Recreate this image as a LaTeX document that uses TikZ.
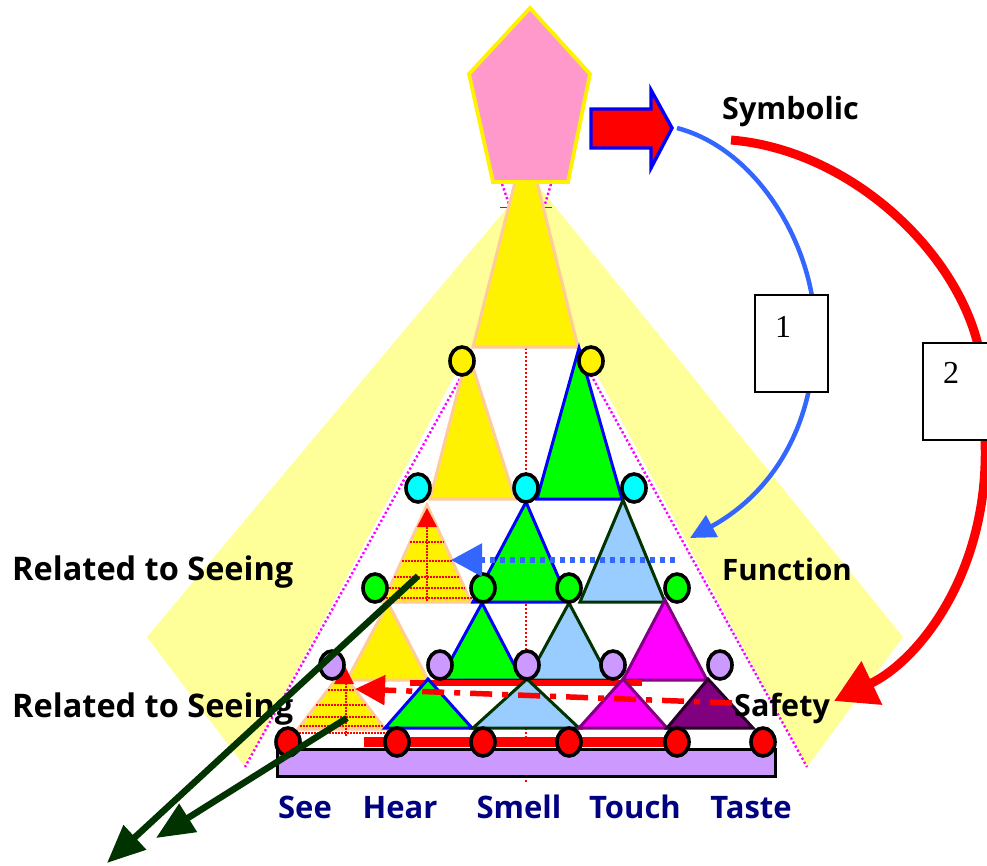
\documentclass[tikz,border=0pt]{standalone}
\usepackage{fontspec}
\setmainfont{Open Sans}
\newfontfamily\numfont{Liberation Serif}
\usetikzlibrary{arrows.meta,shapes.geometric}
\definecolor{paleyellow}{HTML}{FFFF99}
\definecolor{pinkpent}{HTML}{FF99CC}
\definecolor{peach}{HTML}{FFCC99}
\definecolor{lightblue}{HTML}{99CCFF}
\definecolor{dkgreen}{HTML}{003300}
\definecolor{lavender}{HTML}{CC99FF}
\definecolor{navyblue}{HTML}{000080}
\definecolor{arcblue}{HTML}{3366FF}
\definecolor{dkpurple}{HTML}{800080}
\definecolor{brightgreen}{HTML}{00FF00}
\definecolor{brightmag}{HTML}{FF00FF}
\definecolor{cyanfill}{HTML}{00FFFF}
\begin{document}
\begin{tikzpicture}[x=1pt,y=-1pt,
  tri/.style={line width=3pt, line join=miter},
  ytri/.style={tri, fill=yellow, draw=peach},
  gtri/.style={tri, fill=brightgreen, draw=blue},
  btri/.style={tri, fill=lightblue, draw=dkgreen},
  mtri/.style={tri, fill=brightmag, draw=dkpurple},
  ptri/.style={tri, fill=dkpurple, draw=black!70!dkpurple},
  knob/.style={shape=ellipse, draw=black, line width=3.6pt, minimum width=24pt, minimum height=28pt, inner sep=0pt},
  gridline/.style={red, line width=1.1pt, dash pattern=on 1.5pt off 1.5pt},
  magdot/.style={brightmag, line width=2.4pt, dash pattern=on 2.2pt off 2.4pt},
  reddot/.style={red, line width=1.4pt, dash pattern=on 2pt off 2pt},
  numbox/.style={draw=black, fill=white, line width=2pt, minimum width=73pt, minimum height=97pt, inner sep=0pt},
  lbl/.style={font=\bfseries\fontsize{30.5}{36}\selectfont, inner sep=0pt, anchor=base west},
  sense/.style={font=\bfseries\fontsize{31}{36}\selectfont, text=navyblue, inner sep=0pt, anchor=base},
  numtxt/.style={font=\numfont\fontsize{32}{36}\selectfont, inner sep=0pt},
  bigarrow/.style={dkgreen, line width=6.5pt, -{Triangle[length=38pt,width=32pt]}}
]
\useasboundingbox (0,0) rectangle (987,865);
\clip (0,0) rectangle (987,865);

% pale yellow background shape
\fill[paleyellow] (532,178) -- (903,637) -- (807,767) -- (245,767) -- (147,637) -- cycle;
% white pyramid field
\fill[white] (470,347) -- (582,347) -- (807,767) -- (245,767) -- cycle;

% guide lines
\draw[magdot] (462,375) -- (245,767);
\draw[magdot] (591,375) -- (807,767);
\draw[magdot] (502,184) -- (509,204);
\draw[magdot] (551,184) -- (545,204);
\draw[reddot] (526,200) -- (526,782);
\draw[red, line width=1pt] (500,207) -- (518,207) (536,207) -- (552,207);

% top trapezoid
\draw[ytri] (515,182) -- (537,182) -- (578,347) -- (473,347) -- cycle;

% pentagon
\draw[fill=pinkpent, draw=yellow, line width=3.8pt, line join=miter]
  (530,8) -- (590,74) -- (568,182) -- (493,182) -- (469,74) -- cycle;

% red block arrow
\draw[fill=red, draw=blue, line width=3.4pt, line join=miter]
  (591,109) -- (651,109) -- (651,90) -- (672,128) -- (651,168) -- (651,148) -- (591,148) -- cycle;

% row 4
\draw[ytri] (468,352) -- (515,499) -- (430,499) -- cycle;
\draw[gtri] (579,348) -- (622,499) -- (537,499) -- cycle;

% row 3
\draw[ytri] (427,505) -- (471,602) -- (383,602) -- cycle;
\draw[gridline] (410,542) -- (444,542) (402,561) -- (452,561) (394,577) -- (460,577)
  (389,588) -- (465,588) (371,598) -- (483,598) (427,527) -- (427,602);
\fill[red] (427,508) -- (437,527) -- (417,527) -- cycle;
\draw[gtri] (526,502) -- (569,602) -- (473,602) -- cycle;
\draw[btri] (623,500) -- (665,602) -- (580,602) -- cycle;

% row 2
\draw[ytri] (388,603) -- (428,680) -- (347,680) -- cycle;
\draw[gtri] (482,603) -- (522,680) -- (440,680) -- cycle;
\draw[btri] (569,603) -- (610,680) -- (527,680) -- cycle;
\draw[mtri] (665,600) -- (707,680) -- (623,680) -- cycle;

% red bar under row 2
\draw[red, line width=5.5pt] (410,683) -- (642,683);

% bottom row
\draw[ytri] (341.5,672) -- (385,729) -- (298,729) -- cycle;
\draw[gridline] (328,690) -- (355,690) (316,705) -- (367,705) (307,717) -- (376,717)
  (300,726) -- (383,726) (290,733) -- (390,733) (346,683) -- (346,736);
\fill[red] (344,664) -- (354,684) -- (334,684) -- cycle;
\draw[gtri] (428,679) -- (472,728) -- (385,728) -- cycle;
\draw[btri] (527,679) -- (579,728) -- (473,728) -- cycle;
\draw[mtri] (623,679) -- (667,728) -- (579,728) -- cycle;
\draw[ptri] (708,679) -- (753,728) -- (667,728) -- cycle;

% base plate and bar
\draw[fill=lavender, draw=black, line width=3pt] (277,749) rectangle (775,776);
\draw[red, line width=10pt] (364,742) -- (667,742);

% knobs
\node[knob, fill=yellow] (y1) at (462,361) {};
\node[knob, fill=yellow] (y2) at (591,361) {};
\node[knob, fill=cyanfill] (c1) at (418,488) {};
\node[knob, fill=cyanfill] (c2) at (526,488) {};
\node[knob, fill=cyanfill] (c3) at (634,488) {};
\node[knob, fill=brightgreen] (g1) at (375,588) {};
\node[knob, fill=brightgreen] (g2) at (483,588) {};
\node[knob, fill=brightgreen] (g3) at (569,588) {};
\node[knob, fill=brightgreen] (g4) at (677,588) {};
\node[knob, fill=lavender] (l1) at (332,665) {};
\node[knob, fill=lavender] (l2) at (440,665) {};
\node[knob, fill=lavender] (l3) at (527,665) {};
\node[knob, fill=lavender] (l4) at (613,665) {};
\node[knob, fill=lavender] (l5) at (720,665) {};
\node[knob, fill=red] (r1) at (288,742) {};
\node[knob, fill=red] (r2) at (397,742) {};
\node[knob, fill=red] (r3) at (483,742) {};
\node[knob, fill=red] (r4) at (569,742) {};
\node[knob, fill=red] (r5) at (677,742) {};
\node[knob, fill=red] (r6) at (763,742) {};

% connector end points
\coordinate (blueS) at (677,128);
\coordinate (blueE) at (690,538);
\coordinate (redS) at (731,140);
\coordinate (redE) at (834,701);
\coordinate (fnS) at (675,560);
\coordinate (fnE) at (451,560);
\coordinate (sfS) at (732,703);
\coordinate (sfE) at (355,689);
\coordinate (gaS) at (418,576);
\coordinate (gaE) at (107,863);
\coordinate (gbS) at (347,718);
\coordinate (gbE) at (156,838);

% curved arrows
\draw[arcblue, line width=4.5pt, -{Triangle[length=25pt,width=24pt]}]
  (blueS) .. controls (760,150) and (815,250) .. (815,330)
  .. controls (815,440) and (760,500) .. (blueE);
\draw[red, line width=9pt, -{Triangle[length=42pt,width=46pt]}]
  (redS) .. controls (850,150) and (955,250) .. (978,345) -- (985,440)
  .. controls (990,570) and (920,660) .. (redE);

\node[numbox] (b1) at (791.5,343.5) {};
\node[numtxt] at (783,327) {1};
\node[numbox] (b2) at (959,391.5) {};
\node[numtxt] at (951,373) {2};

% straight arrows
\draw[arcblue, line width=5.5pt, dash pattern=on 5pt off 5pt, -{Triangle[length=31pt,width=32pt]}] (fnS) -- (fnE);
\draw[red, line width=5.5pt, dash pattern=on 22pt off 10pt on 6pt off 10pt, -{Triangle[length=30pt,width=29pt]}] (sfS) -- (sfE);

% labels
\node[lbl] at (722,119) {Symbolic};
\node[lbl, font=\bfseries\fontsize{29.5}{36}\selectfont] at (722,580) {Function};
\node[lbl] at (734,716) {Safety};
\node[lbl, font=\bfseries\fontsize{32.5}{36}\selectfont] at (12,580) {Related to Seeing};
\node[lbl, font=\bfseries\fontsize{32.5}{36}\selectfont] at (12,717) {Related to Seeing};
\node[sense] at (305,818) {See};
\node[sense] at (400,818) {Hear};
\node[sense] at (519,818) {Smell};
\node[sense] at (635,818) {Touch};
\node[sense] at (751,818) {Taste};

% dark green arrows
\draw[bigarrow] (gaS) -- (gaE);
\draw[bigarrow] (gbS) -- (gbE);
\end{tikzpicture}
\end{document}
